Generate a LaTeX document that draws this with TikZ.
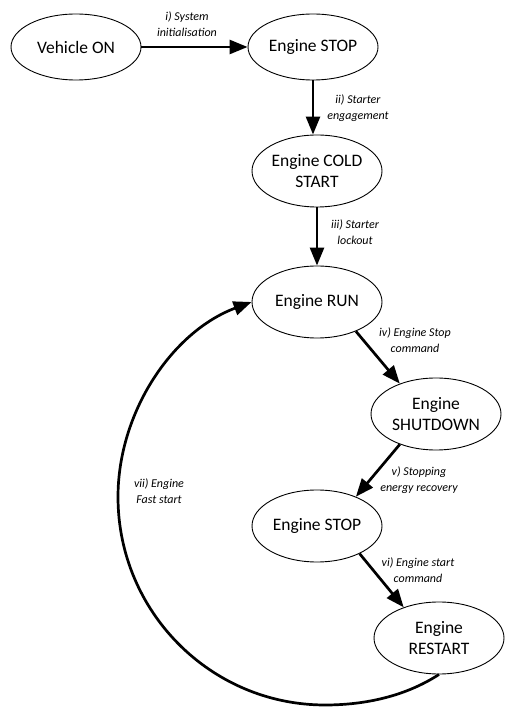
\documentclass[tikz,border=0pt]{standalone}
\usepackage{fontspec}
\setmainfont{Carlito}
\usetikzlibrary{shapes.geometric,arrows.meta}

\tikzset{
  state/.style={ellipse, draw, line width=0.9pt, minimum width=130pt, minimum height=72pt,
    inner sep=0pt, align=center, font=\fontsize{17.5}{20.5}\selectfont},
  flat/.style={state, minimum height=66pt},
  conn/.style={line width=2.7pt, -{Triangle[length=18pt, width=14pt]}},
  lbl/.style={align=center, inner sep=0pt, font=\fontsize{12}{15.5}\selectfont\itshape}
}

\begin{document}
\begin{tikzpicture}[x=1pt, y=1pt]
  \useasboundingbox (0,0) rectangle (504,707);

  % states
  \node[flat]  (vehicle) at (76,660)  {Vehicle ON};
  \node[flat]  (stopA)   at (313,660) {Engine STOP};
  \node[state] (cold)    at (317,536) {Engine COLD\\START};
  \node[state] (run)     at (317,405) {Engine RUN};
  \node[state] (shut)    at (436,293) {Engine\\SHUTDOWN};
  \node[state] (stopB)   at (317,181) {Engine STOP};
  \node[state] (restart) at (439,69)  {Engine\\RESTART};

  % transitions
  \draw[conn] (vehicle.east) -- (stopA.west);
  \draw[conn] (stopA.south) -- (stopA.south |- cold.north);
  \draw[conn] (cold.south) -- (run.north);
  \draw[conn] (run.-37) -- (shut.140);
  \draw[conn] (shut.220) -- (stopB.37);
  \draw[conn] (stopB.-33) -- (restart.139);

  % fast-start loop back to RUN
  \coordinate (loopbottom) at (325,2);
  \coordinate (loopleft)   at (118,210);
  \draw[conn] (restart.south)
      to[out=-147, in=0, looseness=0.87] (loopbottom)
      to[out=180, in=-90] (loopleft)
      to[out=90, in=200.5, looseness=0.92] (run.west);

  % transition labels
  \node[lbl] (li)   at (187,683) {i) System\\initialisation};
  \node[lbl] (lii)  at (358,599) {ii) Starter\\engagement};
  \node[lbl] (liii) at (355,475) {iii) Starter\\lockout};
  \node[lbl] (liv)  at (415,367) {iv) Engine Stop\\command};
  \node[lbl] (lv)   at (419,227) {v) Stopping\\energy recovery};
  \node[lbl] (lvi)  at (418,137) {vi) Engine start\\command};
  \node[lbl] (lvii) at (159,216) {vii) Engine\\Fast start};
\end{tikzpicture}
\end{document}
